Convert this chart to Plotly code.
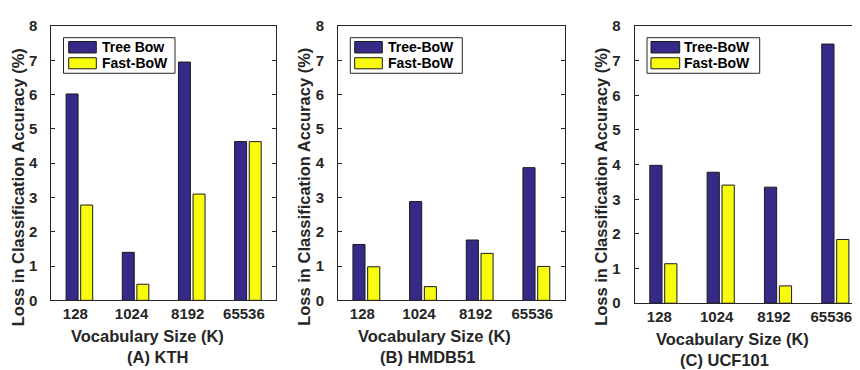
import plotly.graph_objects as go

W, H = 860, 370

categories = ["128", "1024", "8192", "65536"]
series_names = [["Tree Bow", "Fast-BoW"], ["Tree-BoW", "Fast-BoW"], ["Tree-BoW", "Fast-BoW"]]
kth_tree = [6.02, 1.40, 6.95, 4.63]
kth_fast = [2.78, 0.47, 3.10, 4.63]
hmdb_tree = [1.63, 2.88, 1.76, 3.87]
hmdb_fast = [0.98, 0.40, 1.37, 0.99]
ucf_tree = [3.98, 3.78, 3.35, 7.48]
ucf_fast = [1.14, 3.41, 0.50, 1.84]
subtitles = ["(A) KTH", "(B) HMDB51", "(C) UCF101"]
y_ticks = [0, 1, 2, 3, 4, 5, 6, 7, 8]

NAVY = "#352A87"
YELLOW = "#F9FB0E"
AX = "#262626"
FONT = "Liberation Sans"

# pixel layout of each panel: left, right, top, bottom
panels = [
    (43.3, 268.0, 9.5, 297.0),
    (330.0, 556.7, 9.5, 297.0),
    (626.7, 856.0, 9.5, 300.0),
]
ytitle_x = [9.5, 296.0, 593.0]
ytitle_y = [179.0, 178.0, 178.0]
xtitle_x = [139.0, 426.3, 724.7]
sub_x = [149.0, 419.5, 716.2]
row_offsets = [0, 0, 3]
legend_box = [(55.5, 167.0), (342.3, 454.3), (639.0, 751.7)]
legend_swatch = [(60.7, 88.3), (346.7, 374.3), (643.0, 671.7)]
legend_text_x = [91.7, 377.7, 674.3]

data = [(kth_tree, kth_fast), (hmdb_tree, hmdb_fast), (ucf_tree, ucf_fast)]


def px(v):
    return v / W


def py(v):
    return 1 - v / H


fig = go.Figure()
annotations = []
shapes = []

for i, ((tree, fast), (l, r, t, b)) in enumerate(zip(data, panels)):
    sfx = "" if i == 0 else str(i + 1)
    xa, ya = "x" + sfx, "y" + sfx
    for vals, col in ((tree, NAVY), (fast, YELLOW)):
        fig.add_trace(go.Bar(
            x=categories, y=vals, xaxis=xa, yaxis=ya,
            marker=dict(color=col, line=dict(color="#1a1a1a", width=1)),
            showlegend=False, hoverinfo="skip",
        ))
    tickfont = dict(family=FONT, size=15, color=AX, weight="bold")
    fig.update_layout(**{
        ("xaxis" + sfx): dict(
            domain=[px(l), px(r)], anchor=ya, type="category",
            categoryorder="array", categoryarray=categories,
            range=[-0.5, 3.5], ticks="", showline=True, linecolor=AX,
            linewidth=1, mirror=True, showgrid=False, zeroline=False,
            ticklabelstandoff=0, ticklabelshift=-4, tickfont=tickfont),
        ("yaxis" + sfx): dict(
            domain=[py(b), py(t)], anchor=xa, range=[0, 8],
            tickvals=y_ticks, ticktext=[str(v) for v in y_ticks],
            showline=True, linecolor=AX, linewidth=1, mirror="ticks",
            ticks="inside", ticklen=4, tickcolor=AX, tickwidth=1,
            showgrid=False, zeroline=False, ticklabelstandoff=10,
            tickfont=tickfont),
    })
    # small inward ticks on the top edge at category positions
    for c in categories:
        shapes.append(dict(type="line", xref=xa, yref=ya + " domain",
                           x0=c, x1=c, y0=1, y1=1 - 4 / (b - t),
                           line=dict(color=AX, width=1)))

    lbl = dict(family=FONT, size=16.5, color=AX, weight="bold")
    off = row_offsets[i]
    annotations.append(dict(
        text="Loss in Classification Accuracy (%)", textangle=-90,
        x=px(ytitle_x[i]), y=py(ytitle_y[i]), xref="paper", yref="paper",
        xanchor="center", yanchor="middle", showarrow=False, font=lbl))
    annotations.append(dict(
        text="Vocabulary Size (K)", x=px(xtitle_x[i]), y=py(334.0 + off),
        xref="paper", yref="paper", xanchor="center", yanchor="middle",
        showarrow=False, font=lbl))
    annotations.append(dict(
        text=subtitles[i], x=px(sub_x[i]), y=py(356.0 + off),
        xref="paper", yref="paper", xanchor="center", yanchor="middle",
        showarrow=False, font=lbl))

    bx0, bx1 = legend_box[i]
    sw0, sw1 = legend_swatch[i]
    shapes.append(dict(type="rect", xref="paper", yref="paper",
                       x0=px(bx0), x1=px(bx1), y0=py(59.0), y1=py(21.7),
                       line=dict(color=AX, width=1), fillcolor="white"))
    for (y0, y1), col, name in (((25.7, 37.7), NAVY, series_names[i][0]),
                                ((42.7, 54.3), YELLOW, series_names[i][1])):
        shapes.append(dict(type="rect", xref="paper", yref="paper",
                           x0=px(sw0), x1=px(sw1), y0=py(y1), y1=py(y0),
                           line=dict(color="#1a1a1a", width=1), fillcolor=col))
        annotations.append(dict(
            text=name, x=px(legend_text_x[i]), y=py((y0 + y1) / 2),
            xref="paper", yref="paper", xanchor="left", yanchor="middle",
            showarrow=False,
            font=dict(family=FONT, size=14, color="#000000", weight="bold")))

fig.update_layout(
    width=W, height=H, margin=dict(l=0, r=0, t=0, b=0),
    paper_bgcolor="white", plot_bgcolor="white",
    barmode="group", bargap=0.48, bargroupgap=0.18,
    annotations=annotations, shapes=shapes, showlegend=False,
)

fig.write_html("out.html")
